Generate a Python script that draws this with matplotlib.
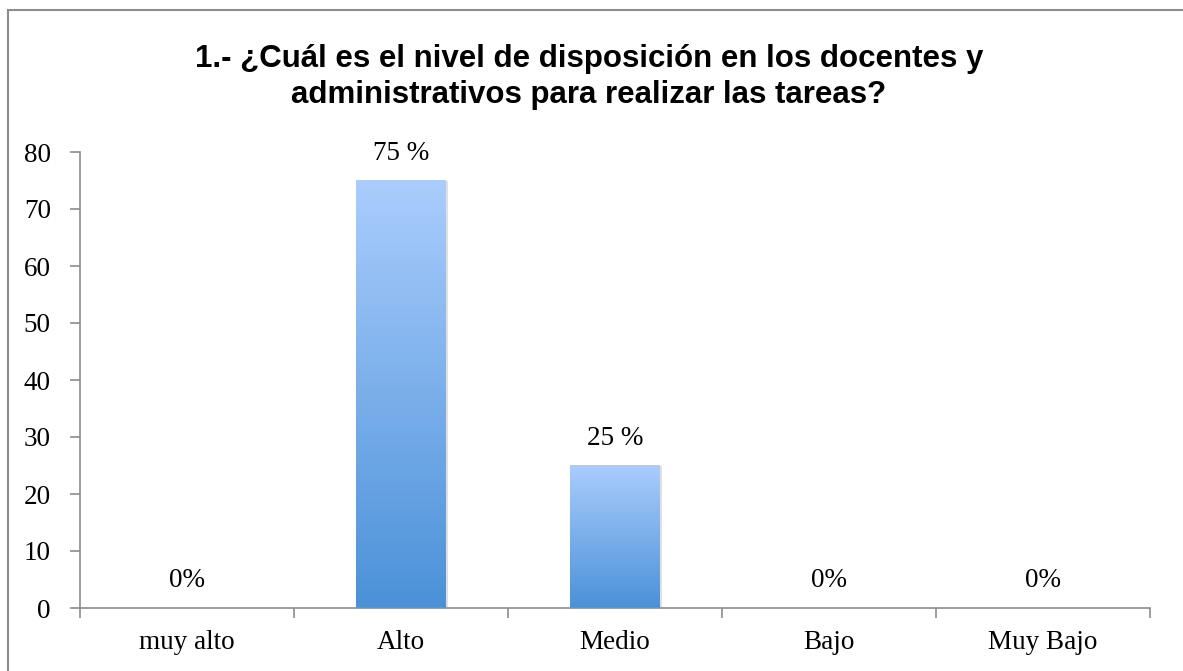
import numpy as np
import matplotlib.pyplot as plt
from matplotlib.colors import LinearSegmentedColormap
from matplotlib.patches import Rectangle

categories = ['muy alto', 'Alto', 'Medio', 'Bajo', 'Muy Bajo']
values = [0, 75, 25, 0, 0]
labels = ['0%', '75 %', '25 %', '0%', '0%']
title = '1.- ¿Cuál es el nivel de disposición en los docentes y\nadministrativos para realizar las tareas?'

fig = plt.figure(figsize=(11.83, 6.71), dpi=100)
ax = fig.add_axes([80 / 1183, 1 - 608 / 671, (1150 - 80) / 1183, (608 - 152) / 671])

# outer frame (right/bottom cut off like the original)
fig.patches.append(Rectangle((8 / 1183, -0.05), 1.2, 1 - 10 / 671 + 0.05,
                             transform=fig.transFigure, fill=False,
                             edgecolor='#8c8c8c', linewidth=1.5))

x = np.arange(len(categories))
bars = ax.bar(x, values, width=0.42, color='none', edgecolor='none', zorder=2)

cmap = LinearSegmentedColormap.from_list('grad', ['#4b91d8', '#aacdfd'])
grad = np.linspace(0, 1, 256).reshape(-1, 1)
for b in bars:
    h = b.get_height()
    if h <= 0:
        continue
    x0 = b.get_x()
    w = b.get_width()
    # faint shadow on the right
    ax.add_patch(Rectangle((x0 + 0.01, 0), w, h, facecolor='#e0e0e0',
                           edgecolor='none', zorder=1))
    ax.imshow(grad, extent=(x0, x0 + w, 0, h), origin='lower', cmap=cmap,
              aspect='auto', zorder=2)

for xi, v, lab in zip(x, values, labels):
    ax.text(xi, v + 2.6, lab, ha='center', va='bottom',
            family='Liberation Serif', fontsize=19.5)

ax.set_xlim(-0.5, len(categories) - 0.5)
ax.set_ylim(0, 80)
ax.set_yticks(range(0, 81, 10))
ax.set_xticks(x)
ax.set_xticklabels(categories)
ax.set_xticks(np.arange(-0.5, len(categories), 1), minor=True)
ax.tick_params(axis='x', which='major', length=0, pad=16)
ax.tick_params(axis='x', which='minor', length=7, color='#8c8c8c', width=1.2)
ax.tick_params(axis='y', length=7, color='#8c8c8c', width=1.2, pad=14)
for lab in ax.get_xticklabels() + ax.get_yticklabels():
    lab.set_family('Liberation Serif')
    lab.set_fontsize(19.5)

for s in ['top', 'right']:
    ax.spines[s].set_visible(False)
for s in ['left', 'bottom']:
    ax.spines[s].set_color('#8c8c8c')
    ax.spines[s].set_linewidth(1.2)

fig.text(589 / 1183, 1 - 77 / 671, title, ha='center', va='center',
         family='Liberation Sans', fontweight='bold', fontsize=22.5,
         linespacing=1.22)

fig.savefig('out.png', dpi=100)
